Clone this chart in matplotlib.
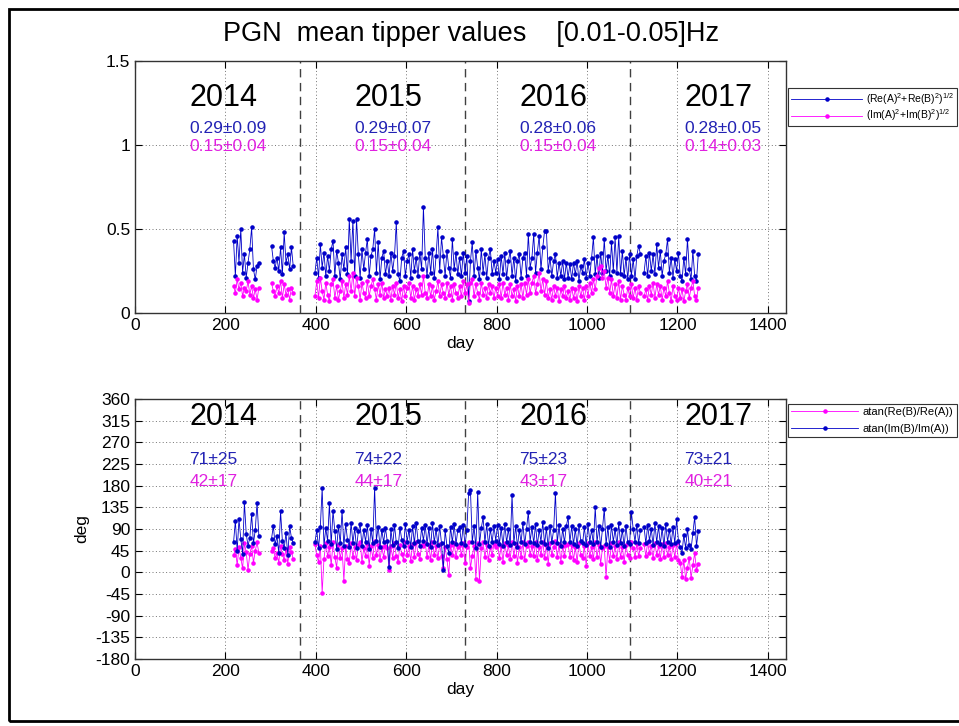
import numpy as np
import matplotlib.pyplot as plt
from matplotlib.patches import Rectangle

plt.rcParams['font.family'] = ['Liberation Sans', 'DejaVu Sans']
plt.rcParams['mathtext.fontset'] = 'custom'
plt.rcParams['mathtext.rm'] = 'Liberation Sans'
plt.rcParams['mathtext.it'] = 'Liberation Sans'
plt.rcParams['axes.unicode_minus'] = False

# first day of each recording block; one reading every 4 days inside a block
seg_start = [218, 302, 398, 1126]
step_days = 4

years = ['2014', '2015', '2016', '2017']
year_len = 365

# |Re| tipper (blue) and |Im| tipper (magenta), one list per block
re_tipper = [
    [0.43, 0.22, 0.46, 0.30, 0.50, 0.24, 0.35, 0.21, 0.30, 0.38, 0.51, 0.26, 0.20, 0.28, 0.30],
    [0.40, 0.31, 0.27, 0.33, 0.25, 0.39, 0.23, 0.48, 0.30, 0.35, 0.26, 0.39, 0.28],
    [0.24, 0.33, 0.21, 0.41, 0.27, 0.36, 0.22, 0.34, 0.25, 0.38, 0.43, 0.22, 0.37, 0.30, 0.20, 0.35, 0.26, 0.39, 0.23, 0.56,
     0.31, 0.55, 0.22, 0.56, 0.35, 0.21, 0.38, 0.26, 0.36, 0.44, 0.22, 0.34, 0.38, 0.50, 0.24, 0.42, 0.20, 0.33, 0.37, 0.23,
     0.31, 0.22, 0.36, 0.25, 0.34, 0.54, 0.23, 0.19, 0.33, 0.37, 0.22, 0.31, 0.35, 0.21, 0.38, 0.25, 0.33, 0.22, 0.36, 0.26,
     0.63, 0.33, 0.22, 0.36, 0.24, 0.38, 0.21, 0.34, 0.51, 0.25, 0.45, 0.34, 0.22, 0.37, 0.27, 0.21, 0.44, 0.26, 0.36, 0.23,
     0.33, 0.22, 0.36, 0.24, 0.34, 0.07, 0.31, 0.42, 0.22, 0.37, 0.27, 0.20, 0.38, 0.24, 0.35, 0.21, 0.33, 0.38, 0.23, 0.31,
     0.24, 0.32, 0.20, 0.34, 0.23, 0.36, 0.21, 0.31, 0.37, 0.22, 0.33, 0.19, 0.31, 0.35, 0.21, 0.33, 0.36, 0.22, 0.47, 0.27,
     0.33, 0.47, 0.24, 0.36, 0.46, 0.26, 0.39, 0.49, 0.49, 0.25, 0.33, 0.22, 0.31, 0.35, 0.21, 0.30, 0.22, 0.31, 0.20, 0.30,
     0.21, 0.29, 0.20, 0.30, 0.23, 0.31, 0.19, 0.28, 0.24, 0.32, 0.21, 0.30, 0.22, 0.33, 0.45, 0.23, 0.34, 0.21, 0.36, 0.24,
     0.44, 0.25, 0.34, 0.22, 0.42, 0.25, 0.45, 0.24, 0.46, 0.23, 0.37, 0.22, 0.33, 0.20, 0.35, 0.22, 0.32, 0.20, 0.34, 0.40,
     0.35],
    [0.24, 0.34, 0.22, 0.36, 0.25, 0.35, 0.23, 0.41, 0.27, 0.37, 0.22, 0.31, 0.35, 0.44, 0.24, 0.33,
     0.21, 0.32, 0.25, 0.36, 0.22, 0.19, 0.33, 0.23, 0.44, 0.26, 0.20, 0.37, 0.22, 0.19, 0.35],
]
im_tipper = [
    [0.16, 0.12, 0.20, 0.14, 0.18, 0.10, 0.15, 0.13, 0.19, 0.11, 0.16, 0.09, 0.14, 0.08, 0.15],
    [0.18, 0.13, 0.10, 0.16, 0.12, 0.19, 0.09, 0.17, 0.11, 0.14, 0.08, 0.15, 0.12],
    [0.10, 0.19, 0.09, 0.21, 0.13, 0.08, 0.18, 0.11, 0.07, 0.17, 0.20, 0.09, 0.16, 0.08, 0.13, 0.19, 0.09, 0.17, 0.11, 0.22,
     0.13, 0.24, 0.10, 0.21, 0.16, 0.08, 0.18, 0.12, 0.09, 0.19, 0.10, 0.16, 0.20, 0.14, 0.08, 0.17, 0.11, 0.18, 0.09, 0.14,
     0.10, 0.15, 0.08, 0.16, 0.11, 0.18, 0.09, 0.14, 0.07, 0.16, 0.10, 0.15, 0.18, 0.09, 0.16, 0.08, 0.14, 0.10, 0.17, 0.11,
     0.22, 0.12, 0.09, 0.17, 0.10, 0.16, 0.08, 0.13, 0.19, 0.10, 0.17, 0.12, 0.09, 0.18, 0.11, 0.16, 0.08, 0.17, 0.12, 0.09,
     0.16, 0.10, 0.19, 0.12, 0.17, 0.06, 0.18, 0.20, 0.10, 0.17, 0.12, 0.08, 0.18, 0.11, 0.15, 0.09, 0.17, 0.12, 0.16, 0.09,
     0.15, 0.10, 0.17, 0.09, 0.18, 0.11, 0.15, 0.08, 0.17, 0.10, 0.14, 0.07, 0.16, 0.10, 0.17, 0.09, 0.18, 0.11, 0.20, 0.12,
     0.18, 0.22, 0.12, 0.17, 0.24, 0.13, 0.20, 0.11, 0.19, 0.09, 0.14, 0.08, 0.16, 0.10, 0.15, 0.07, 0.14, 0.10, 0.16, 0.09,
     0.13, 0.08, 0.15, 0.09, 0.14, 0.07, 0.16, 0.10, 0.15, 0.08, 0.16, 0.10, 0.18, 0.12, 0.20, 0.14, 0.22, 0.27, 0.28, 0.21,
     0.25, 0.15, 0.21, 0.12, 0.20, 0.10, 0.17, 0.09, 0.19, 0.08, 0.16, 0.11, 0.08, 0.15, 0.10, 0.17, 0.09, 0.15, 0.08, 0.16,
     0.12],
    [0.10, 0.14, 0.08, 0.16, 0.11, 0.18, 0.09, 0.17, 0.11, 0.16, 0.08, 0.15, 0.10, 0.19, 0.12, 0.07,
     0.16, 0.10, 0.08, 0.15, 0.09, 0.14, 0.07, 0.13, 0.17, 0.09, 0.15, 0.19, 0.10, 0.08, 0.15],
]
re_stats = ['0.29\u00b10.09', '0.29\u00b10.07', '0.28\u00b10.06', '0.28\u00b10.05']
im_stats = ['0.15\u00b10.04', '0.15\u00b10.04', '0.15\u00b10.04', '0.14\u00b10.03']

# angles in degrees: atan(Re(B)/Re(A)) magenta, atan(Im(B)/Im(A)) blue
ang_re = [
    [35, 48, 15, 52, 30, 8, 60, 42, 5, 38, 55, 20, 45, 62, 40],
    [45, 50, 30, 40, 20, 55, 38, 25, 48, 18, 52, 42, 28],
    [58, 35, 22, 55, -42, 28, 60, 34, 52, 15, 62, 32, 10, 56, 30, 50, -17, 54, 28, 20,
     60, 32, 52, 26, 56, 64, 22, 50, 34, 58, 14, 54, 30, 65, 36, 56, 26, 52, 32, 55,
     50, 5, 54, 30, 60, 34, 22, 56, 38, 26, 62, 36, 54, 24, 58, 32, 64, 38, 28, 56,
     54, 60, 32, 56, 26, 62, 36, 54, 30, 58, 34, 10, 52, 28, -6, 56, 36, 60, 32, 52,
     56, 36, 60, 20, 52, 64, 9, 34, 55, -13, 60, -17, 50, 62, 32, 56, 26, 52, 36, 58,
     52, 60, 30, 54, 22, 60, 36, 56, 28, 64, 34, 58, 20, 52, 32, 62, 26, 54, 62, 36,
     54, 34, 62, 26, 52, 36, 64, 30, 56, 18, 60, 36, 52, 66, 32, 58, 22, 54, 34, 56,
     58, 32, 56, 26, 52, 22, 60, 36, 30, 54, 14, 60, 34, 52, 28, 64, 32, 56, 18, 50,
     54, -9, 52, 24, 60, 34, 54, 28, 62, 32, 52, 22, 56, 36, 30, 62, 50, 32, 58, 34,
     50],
    [58, 34, 62, 40, 55, 30, 60, 36, 54, 28, 58, 32, 60, 36, 52, 28,
     56, 32, 60, 26, 20, -9, 25, -14, 10, 30, -12, 15, 40, 5, 18],
]
ang_im = [
    [62, 107, 45, 110, 70, 38, 146, 80, 55, 72, 121, 60, 88, 145, 75],
    [70, 96, 58, 75, 40, 127, 65, 50, 82, 35, 96, 72, 60],
    [62, 88, 50, 95, 175, 55, 92, 65, 143, 58, 128, 85, 48, 96, 60, 128, 55, 100, 68, 52,
     103, 60, 92, 50, 85, 100, 55, 88, 64, 98, 48, 90, 60, 175, 66, 95, 52, 88, 62, 92,
     65, 12, 90, 56, 98, 62, 50, 93, 68, 55, 100, 64, 88, 52, 96, 60, 102, 66, 55, 92,
     66, 98, 58, 92, 52, 102, 62, 90, 56, 96, 60, 5, 88, 55, 40, 94, 62, 100, 58, 88,
     94, 60, 98, 56, 88, 165, 171, 62, 96, 50, 166, 58, 92, 114, 62, 100, 55, 90, 62, 96,
     66, 98, 58, 92, 54, 100, 62, 90, 56, 161, 60, 96, 52, 88, 62, 102, 58, 90, 125, 64,
     94, 60, 100, 56, 88, 64, 104, 58, 92, 50, 96, 62, 88, 165, 60, 98, 54, 90, 62, 96,
     114, 62, 96, 58, 90, 54, 98, 66, 60, 94, 56, 100, 64, 88, 58, 135, 62, 96, 52, 90,
     132, 58, 94, 52, 98, 64, 90, 56, 102, 60, 88, 54, 96, 62, 58, 125, 90, 64, 98, 60,
     88],
    [94, 60, 98, 66, 90, 56, 102, 62, 96, 58, 92, 54, 100, 64, 88, 58,
     94, 60, 110, 66, 52, 40, 78, 50, 90, 56, 48, 82, 115, 55, 85],
]
ang_im_stats = ['71\u00b125', '74\u00b122', '75\u00b123', '73\u00b121']
ang_re_stats = ['42\u00b117', '44\u00b117', '43\u00b117', '40\u00b121']

BLUE = '#0000c8'
MAG = '#ff00ff'
BLUE_TXT = '#2222b4'
MAG_TXT = '#e020e0'


def join_blocks(blocks):
    # put a NaN between blocks so the line breaks at the data gaps
    d, v = [], []
    for start, vals in zip(seg_start, blocks):
        d += [start + step_days * i for i in range(len(vals))] + [np.nan]
        v += list(vals) + [np.nan]
    return np.array(d, dtype=float), np.array(v, dtype=float)


W, H = 959, 726
fig = plt.figure(figsize=(W / 100, H / 100), dpi=100)


def px_axes(left, top, right, bottom):
    return fig.add_axes([left / W, 1 - bottom / H, (right - left) / W, (bottom - top) / H])


def style_axes(ax):
    ax.set_xlim(0, 1440)
    ax.set_xticks(range(0, 1401, 200))
    ax.grid(True, linestyle=(0, (1, 2.5)), color='0.45', lw=0.7)
    ax.set_axisbelow(True)
    ax.tick_params(direction='in', top=True, right=True, length=5, labelsize=12.5, width=0.8)
    for s in ax.spines.values():
        s.set_linewidth(1.0)
        s.set_color('0.2')
    for k in range(1, 4):
        ax.axvline(k * year_len, color='0.25', ls=(0, (6, 4)), lw=1.0, zorder=1.5)
    ax.set_xlabel('day', fontsize=12.5, labelpad=2)


def add_legend(ax, top_px, size, hlen, spacing):
    leg = ax.legend(loc='upper left', bbox_to_anchor=(788 / W, 1 - top_px / H),
                    bbox_transform=fig.transFigure, fontsize=size, handlelength=hlen,
                    handletextpad=0.4, labelspacing=spacing, borderpad=0.3, borderaxespad=0,
                    fancybox=False, framealpha=1, edgecolor='0.2', numpoints=1)
    leg.get_frame().set_linewidth(0.8)


fig.patches.append(Rectangle((9 / W, 5 / H), (W + 20) / W, (H - 14) / H,
                             transform=fig.transFigure, fill=False, lw=2, edgecolor='k'))

fig.text(471 / W, 1 - 34 / H, 'PGN  mean tipper values    [0.01-0.05]Hz',
         ha='center', va='center', fontsize=19.5)

# --- upper panel: tipper magnitudes
ax1 = px_axes(135, 61, 786, 313)
style_axes(ax1)
x, y = join_blocks(re_tipper)
ax1.plot(x, y, '.-', color=BLUE, lw=0.6, ms=4.5, label=r'(Re(A)$^2$+Re(B)$^2$)$^{1/2}$')
x, y = join_blocks(im_tipper)
ax1.plot(x, y, '.-', color=MAG, lw=0.6, ms=4.5, label=r'(Im(A)$^2$+Im(B)$^2$)$^{1/2}$')
ax1.set_ylim(0, 1.5)
ax1.set_yticks([0, 0.5, 1, 1.5])
ax1.set_yticklabels(['0', '0.5', '1', '1.5'])
for k, yr in enumerate(years):
    x0 = k * year_len + 120
    ax1.text(x0, 1.28, yr, fontsize=22, va='center')
    ax1.text(x0, 1.10, re_stats[k], fontsize=12.5, color=BLUE_TXT, va='center')
    ax1.text(x0, 0.99, im_stats[k], fontsize=12.5, color=MAG_TXT, va='center')
add_legend(ax1, 88, 7.5, 6.8, 0.05)

# --- lower panel: tipper angles
ax2 = px_axes(135, 399, 786, 659)
style_axes(ax2)
x, y = join_blocks(ang_re)
ax2.plot(x, y, '.-', color=MAG, lw=0.6, ms=4.5, label='atan(Re(B)/Re(A))')
x, y = join_blocks(ang_im)
ax2.plot(x, y, '.-', color=BLUE, lw=0.6, ms=4.5, label='atan(Im(B)/Im(A))')
ax2.set_ylim(-180, 360)
ax2.set_yticks(range(-180, 361, 45))
ax2.set_ylabel('deg', fontsize=12.5, labelpad=4)
for k, yr in enumerate(years):
    x0 = k * year_len + 120
    ax2.text(x0, 322, yr, fontsize=22, va='center')
    ax2.text(x0, 235, ang_im_stats[k], fontsize=12.5, color=BLUE_TXT, va='center')
    ax2.text(x0, 188, ang_re_stats[k], fontsize=12.5, color=MAG_TXT, va='center')
add_legend(ax2, 404, 8, 6.0, 0.6)

fig.savefig('out.png', dpi=100, facecolor='white')
